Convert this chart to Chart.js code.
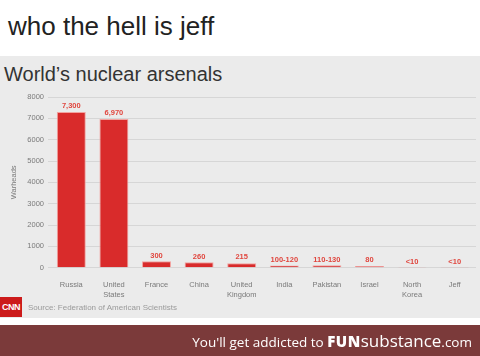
<!DOCTYPE html>
<html><head><meta charset="utf-8">
<script src="https://cdn.jsdelivr.net/npm/chart.js@4/dist/chart.umd.min.js"></script>
<style>
html,body{margin:0;padding:0;width:480px;height:356px;overflow:hidden;background:#fff;font-family:"Liberation Sans",Arial,sans-serif;}
#hdr{position:absolute;left:0;top:0;width:480px;height:56px;background:#fff;}
#hdr span{position:absolute;left:8px;top:11px;font-size:26px;color:#222;line-height:30px;}
#panel{position:absolute;left:0;top:56px;width:480px;height:262px;background:#ebebeb;}
#title{position:absolute;left:4px;top:62px;font-size:20px;color:#333;line-height:24px;}
#wrap{position:absolute;left:0;top:56px;width:480px;height:262px;}
#cnn{position:absolute;left:0;top:297px;width:22px;height:20px;background:#cc1b1b;color:#fff;font:bold 9px "Liberation Sans",Arial,sans-serif;line-height:20px;text-align:center;letter-spacing:-0.5px;}
#src{position:absolute;left:28px;top:303px;font-size:8px;color:#9a9a9a;line-height:10px;}
#gap{position:absolute;left:0;top:318px;width:480px;height:7px;background:#fff;}
#bar{position:absolute;left:0;top:325px;width:480px;height:31px;background:#7b3a3a;}
#bar div{position:absolute;right:8px;top:5px;color:#fff;font-family:"Open Sans",sans-serif;font-size:13.5px;line-height:22px;white-space:nowrap;}
#bar b{font-size:15px;font-weight:800;letter-spacing:0.5px;}
#bar .s{font-size:17px;}
</style></head>
<body>
<div id="hdr"><span>who the hell is jeff</span></div>
<div id="panel"></div>
<div id="title">World’s nuclear arsenals</div>
<div id="wrap"><canvas id="c" width="480" height="262"></canvas></div>
<div id="cnn">CNN</div>
<div id="src">Source: Federation of American Scientists</div>
<div id="gap"></div>
<div id="bar"><div>You'll get addicted to <b>FUN</b><span class="s">substance</span>.com</div></div>
<script>
const categories = [["Russia"],["United","States"],["France"],["China"],["United","Kingdom"],["India"],["Pakistan"],["Israel"],["North","Korea"],["Jeff"]];
const warheads = [7300, 6970, 300, 260, 215, 110, 120, 80, 10, 10];
const valueLabels = ["7,300","6,970","300","260","215","100-120","110-130","80","<10","<10"];
const yTicks = [0,1000,2000,3000,4000,5000,6000,7000,8000];

const labelPlugin = {
  id: 'valueLabels',
  afterDatasetsDraw(chart) {
    const ctx = chart.ctx;
    const meta = chart.getDatasetMeta(0);
    ctx.save();
    ctx.font = 'bold 7.5px "Liberation Sans", Arial, sans-serif';
    ctx.fillStyle = '#e0463e';
    ctx.textAlign = 'center';
    ctx.textBaseline = 'bottom';
    meta.data.forEach((bar, i) => {
      ctx.fillText(valueLabels[i], bar.x, bar.y - 2);
    });
    ctx.restore();
  }
};

new Chart(document.getElementById('c'), {
  type: 'bar',
  data: {
    labels: categories,
    datasets: [{
      data: warheads,
      backgroundColor: '#d92b2b',
      borderColor: '#f2a3a0',
      borderWidth: 1,
      categoryPercentage: 1,
      barPercentage: 0.68
    }]
  },
  options: {
    responsive: false,
    animation: false,
    devicePixelRatio: 1,
    layout: { padding: { top: 41, right: 4, left: 9, bottom: 14 } },
    plugins: { legend: { display: false }, tooltip: { enabled: false } },
    scales: {
      x: {
        grid: { display: false },
        border: { display: false },
        ticks: { color: '#7a7a7a', font: { size: 7.5, family: '"Liberation Sans", Arial, sans-serif', lineHeight: 1.35 }, padding: 4, maxRotation: 0, autoSkip: false }
      },
      y: {
        min: 0, max: 8000,
        afterFit(s) { s.width = 41; },
        afterBuildTicks(s) { s.ticks = yTicks.map(v => ({ value: v })); },
        grid: { color: '#d6d6d6', lineWidth: 1, tickLength: 2, tickColor: '#d6d6d6' },
        border: { display: false },
        title: { display: true, text: 'Warheads', color: '#7a7a7a', font: { size: 7.5, family: '"Liberation Sans", Arial, sans-serif' }, padding: 0 },
        ticks: { color: '#7a7a7a', font: { size: 7.5, family: '"Liberation Sans", Arial, sans-serif' }, padding: 4, callback: v => String(v) }
      }
    }
  },
  plugins: [labelPlugin]
});
</script>
</body></html>
